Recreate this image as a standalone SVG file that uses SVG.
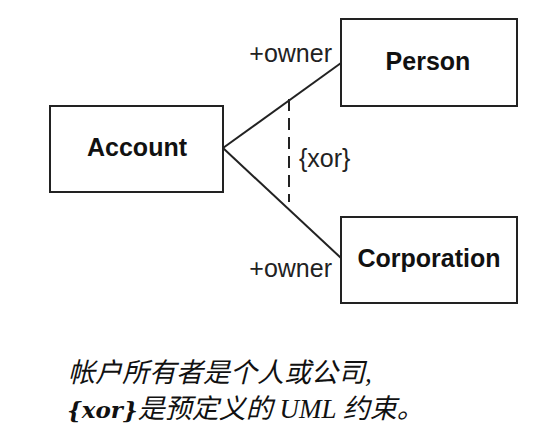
<svg xmlns="http://www.w3.org/2000/svg" width="542" height="438" viewBox="0 0 542 438">
<style>
.box{fill:#fff;stroke:#222;stroke-width:2}
.name{font-family:"Liberation Sans",Arial,sans-serif;font-weight:bold;font-size:25px;fill:#111;text-anchor:middle}
.lbl{font-family:"Liberation Sans",Arial,sans-serif;font-size:25px;fill:#222}
.ln{stroke:#222;stroke-width:2;fill:none}
.cap{font-family:"Liberation Serif","Noto Sans CJK SC",serif;font-style:italic;font-size:27px;fill:#111}
.kw{font-family:"DejaVu Serif","Liberation Serif",serif;font-weight:bold;font-size:23px}
</style>
<rect width="542" height="438" fill="#fff"/>
<g id="connectors">
<line class="ln" x1="223" y1="148" x2="341" y2="63"/>
<line class="ln" x1="223" y1="148" x2="341" y2="258"/>
<line class="ln" x1="289" y1="99" x2="289" y2="202" stroke-dasharray="12,7"/>
<text class="lbl" x="299" y="167">{xor}</text>
<text class="lbl" x="332" y="62" text-anchor="end">+owner</text>
<text class="lbl" x="332" y="277" text-anchor="end">+owner</text>
</g>
<g id="account">
<rect class="box" x="50" y="106" width="173" height="86"/>
<text class="name" x="137" y="156">Account</text>
</g>
<g id="person">
<rect class="box" x="341" y="19" width="176" height="87"/>
<text class="name" x="428" y="70">Person</text>
</g>
<g id="corporation">
<rect class="box" x="341" y="217" width="176" height="86"/>
<text class="name" x="429" y="267">Corporation</text>
</g>
<g id="caption">
<text class="cap" x="68" y="382">帐户所有者是个人或公司,</text>
<text class="cap" x="67" y="418"><tspan class="kw">{xor}</tspan>是预定义的 UML 约束。</text>
</g>
</svg>
